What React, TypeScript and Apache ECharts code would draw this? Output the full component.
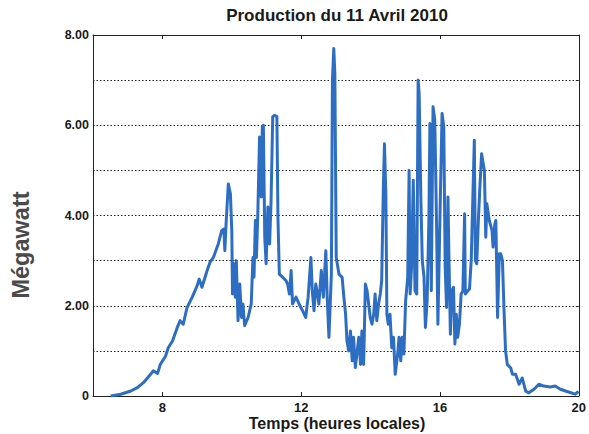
import React, { useEffect, useRef } from "react";
import * as echarts from "echarts";

const hours: number[] = [
  6.51, 6.8, 7.09, 7.29, 7.46, 7.66, 7.74, 7.86, 7.94, 8.09, 8.17, 8.29, 8.43, 8.51, 8.6, 8.71, 8.86, 9.0, 9.06, 9.14, 9.29, 9.37,
  9.47, 9.61, 9.71, 9.77, 9.8, 9.83, 9.9, 9.96, 10.0, 10.02, 10.06, 10.1, 10.13, 10.18, 10.23, 10.28, 10.32, 10.37, 10.47, 10.56,
  10.61, 10.64, 10.68, 10.71, 10.75, 10.8, 10.85, 10.88, 10.91, 10.95, 10.99, 11.04, 11.09, 11.13, 11.18, 11.23, 11.3, 11.33, 11.37,
  11.47, 11.56, 11.61, 11.66, 11.71, 11.75, 11.85, 11.94, 12.04, 12.13, 12.2, 12.28, 12.32, 12.37, 12.42, 12.47, 12.51, 12.58, 12.64,
  12.71, 12.75, 12.8, 12.87, 12.9, 12.94, 12.97, 13.01, 13.04, 13.09, 13.18, 13.23, 13.28, 13.32, 13.37, 13.42, 13.47, 13.51, 13.56,
  13.66, 13.71, 13.75, 13.8, 13.85, 13.9, 13.99, 14.04, 14.09, 14.13, 14.18, 14.23, 14.28, 14.32, 14.37, 14.4, 14.44, 14.47, 14.51,
  14.56, 14.61, 14.66, 14.71, 14.78, 14.82, 14.87, 14.91, 14.96, 15.01, 15.07, 15.11, 15.14, 15.18, 15.23, 15.28, 15.33, 15.37, 15.4,
  15.45, 15.49, 15.54, 15.58, 15.63, 15.68, 15.71, 15.73, 15.75, 15.8, 15.85, 15.9, 15.94, 15.99, 16.06, 16.11, 16.15, 16.19, 16.23,
  16.26, 16.3, 16.34, 16.39, 16.43, 16.47, 16.51, 16.56, 16.61, 16.66, 16.71, 16.73, 16.8, 16.85, 16.9, 16.94, 16.99, 17.02, 17.06,
  17.11, 17.15, 17.2, 17.23, 17.28, 17.32, 17.35, 17.42, 17.5, 17.53, 17.58, 17.61, 17.66, 17.71, 17.75, 17.8, 17.85, 17.89, 17.94,
  18.04, 18.09, 18.18, 18.28, 18.37, 18.47, 18.56, 18.71, 18.85, 18.99, 19.18, 19.32, 19.47, 19.66, 19.9, 19.99,
];

const megawatts: number[] = [
  0, 0.04, 0.11, 0.19, 0.3, 0.48, 0.56, 0.5, 0.7, 0.88, 1.07, 1.22, 1.52, 1.67, 1.59, 1.96, 2.19, 2.44, 2.59, 2.41, 2.78, 2.96,
  3.07, 3.37, 3.67, 3.7, 3.22, 3.74, 4.7, 4.48, 3.67, 2.26, 2.93, 2.19, 3.0, 1.67, 2.48, 1.74, 2.04, 1.56, 1.74, 2.04,
  3.07, 2.63, 3.89, 3.07, 4.04, 5.74, 4.41, 5.96, 6.0, 3.52, 2.93, 4.19, 3.37, 4.26, 6.19, 6.22, 6.19, 3.96, 2.7,
  2.63, 2.56, 2.48, 2.26, 2.78, 2.04, 2.19, 2.04, 1.89, 1.74, 2.19, 3.07, 2.33, 1.89, 2.48, 2.26, 2.04, 2.78, 2.19,
  3.22, 2.19, 1.3, 2.7, 7.0, 7.7, 7.15, 3.07, 2.93, 2.7, 2.63, 2.19, 1.81, 1.22, 1.0, 1.44, 0.78, 1.3, 0.63,
  1.3, 0.7, 1.44, 0.7, 2.48, 2.33, 1.74, 1.59, 1.81, 2.26, 1.67, 2.04, 2.26, 2.56, 4.7, 5.59, 4.48, 1.81, 1.59,
  1.81, 1.07, 1.3, 0.48, 0.93, 1.3, 0.78, 1.3, 0.93, 2.11, 2.63, 5.0, 2.26, 2.85, 4.78, 2.33, 2.26, 7.0, 6.7,
  4.33, 3.0, 2.63, 1.52, 2.11, 3.89, 6.04, 4.04, 2.33, 6.41, 6.11, 3.89, 1.59, 3.59, 6.26, 5.96, 2.85, 1.96, 4.41,
  3.0, 1.37, 2.33, 2.41, 1.15, 1.81, 1.3, 1.59, 2.26, 2.33, 4.04, 2.26, 2.33, 2.37, 3.0, 4.19, 5.67, 3.0, 2.93,
  3.96, 4.63, 5.37, 5.22, 5.0, 3.52, 4.26, 3.89, 3.67, 3.3, 3.81, 3.89, 1.74, 3.15, 3.15, 3.0, 1.81, 1.0, 0.7,
  0.62, 0.48, 0.48, 0.26, 0.4, 0.11, 0.07, 0.15, 0.26, 0.22, 0.2, 0.22, 0.15, 0.1, 0.04, 0.1,
];

const xTickValues: number[] = [8, 12, 16, 20];
const xTopTickValues: number[] = [8, 12, 16];

const titleText = "Production du 11 Avril 2010";
const xTitle = "Temps (heures locales)";
const yTitle = "Mégawatt";

const FONT = "'Liberation Sans', Arial, sans-serif";

export default function App() {
  const ref = useRef<HTMLDivElement>(null);
  useEffect(() => {
    if (!ref.current) return;
    const chart = echarts.init(ref.current, undefined, { renderer: "svg" });
    const data = hours.map((h, i) => [h, megawatts[i]]);
    chart.setOption({
      animation: false,
      backgroundColor: "#ffffff",
      textStyle: { fontFamily: FONT },
      grid: { left: 93, right: 7, top: 35, bottom: 38, containLabel: false },
      xAxis: [
        {
          type: "value",
          min: 6,
          max: 20,
          position: "bottom",
          axisLine: { show: true, onZero: false, lineStyle: { color: "#222", width: 1 } },
          axisTick: { show: true, inside: true, length: 4, customValues: xTickValues, lineStyle: { color: "#222" } },
          axisLabel: {
            customValues: xTickValues,
            margin: 5,
            color: "#1a1a1a",
            fontWeight: "bold",
            fontSize: 13,
            fontFamily: FONT,
          },
          splitLine: { show: false },
        },
        {
          type: "value",
          min: 6,
          max: 20,
          position: "top",
          axisLine: { show: true, onZero: false, lineStyle: { color: "#222", width: 1 } },
          axisTick: { show: true, inside: true, length: 4, customValues: xTopTickValues, lineStyle: { color: "#222" } },
          axisLabel: { show: false },
          splitLine: { show: false },
        },
      ],
      yAxis: [
        {
          type: "value",
          min: 0,
          max: 8,
          interval: 1,
          position: "left",
          axisLine: { show: true, lineStyle: { color: "#222", width: 1 } },
          axisTick: { show: false },
          axisLabel: {
            margin: 4,
            color: "#1a1a1a",
            fontWeight: "bold",
            fontSize: 12.5,
            fontFamily: FONT,
            formatter: (v: number) => (v % 2 === 0 ? (v === 0 ? "0" : v.toFixed(2)) : ""),
          },
          splitLine: { show: true, lineStyle: { type: [1.5, 2], color: "#222", width: 1 } },
        },
        {
          type: "value",
          min: 0,
          max: 8,
          interval: 1,
          position: "right",
          axisLine: { show: true, lineStyle: { color: "#222", width: 1 } },
          axisTick: { show: true, inside: true, length: 3, lineStyle: { color: "#222" } },
          axisLabel: { show: false },
          splitLine: { show: false },
        },
      ],
      series: [
        {
          type: "line",
          data,
          showSymbol: false,
          xAxisIndex: 0,
          yAxisIndex: 0,
          lineStyle: { color: "#2d6ec2", width: 3, join: "round" },
        },
      ],
      graphic: [
        {
          type: "text",
          x: 337,
          y: 15,
          style: {
            text: titleText,
            fontFamily: FONT,
            fontWeight: "bold",
            fontSize: 17,
            fill: "#1a1a1a",
            align: "center",
            verticalAlign: "middle",
          },
        },
        {
          type: "text",
          x: 337,
          y: 423,
          style: {
            text: xTitle,
            fontFamily: FONT,
            fontWeight: "bold",
            fontSize: 16,
            fill: "#1a1a1a",
            align: "center",
            verticalAlign: "middle",
          },
        },
        {
          type: "text",
          x: 21,
          y: 245,
          rotation: Math.PI / 2,
          style: {
            text: yTitle,
            fontFamily: FONT,
            fontWeight: "bold",
            fontSize: 23.5,
            fill: "#4a4a4a",
            align: "center",
            verticalAlign: "middle",
          },
        },
      ],
    });
    return () => chart.dispose();
  }, []);
  return (
    <div
      ref={ref}
      style={{ position: "fixed", left: 0, top: 0, width: 589, height: 434, background: "#fff" }}
    />
  );
}
